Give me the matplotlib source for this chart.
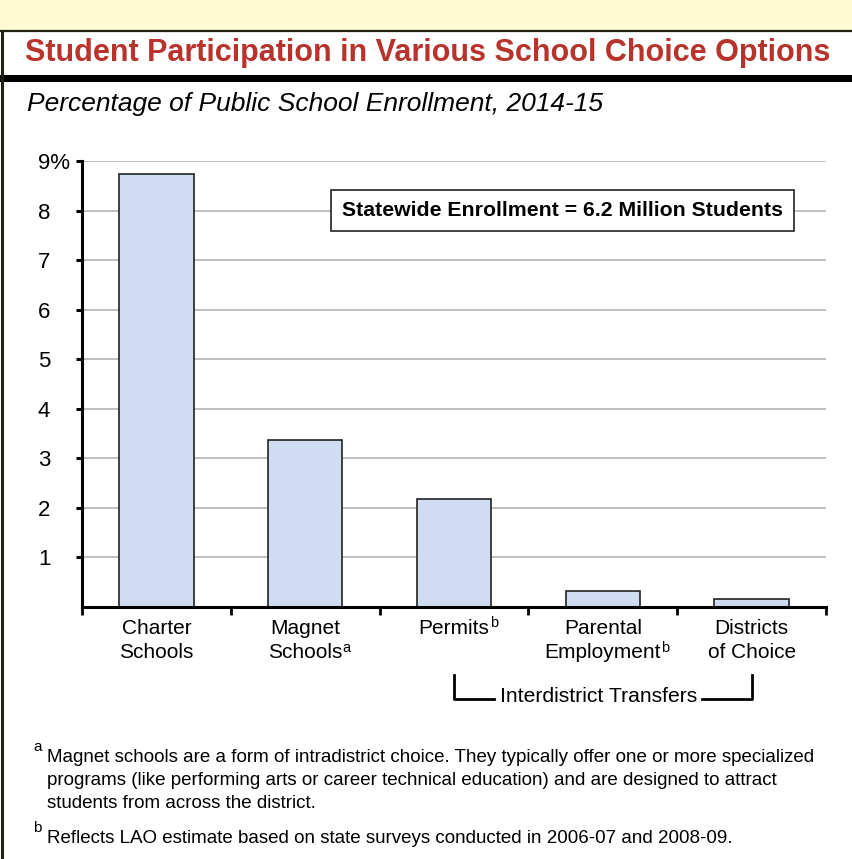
import matplotlib
matplotlib.use("Agg")
import matplotlib.pyplot as plt
import matplotlib.transforms as mtransforms
from matplotlib.patches import Rectangle

# ── Data ──────────────────────────────────────────────────────────
# (first line, second line, footnote mark on the last line)
categories = [
    ("Charter", "Schools", ""),
    ("Magnet", "Schools", "a"),
    ("Permits", "", "b"),
    ("Parental", "Employment", "b"),
    ("Districts", "of Choice", ""),
]
values = [8.73, 3.38, 2.17, 0.32, 0.155]
y_ticks = [1, 2, 3, 4, 5, 6, 7, 8, 9]
y_labels = ["1", "2", "3", "4", "5", "6", "7", "8", "9%"]

# ── Style ─────────────────────────────────────────────────────────
_RED = "#B8332B"
_BAR = "#CFDCF2"
_BAND = "#FEFAD3"
_GRID = "#B4B4B4"
FONT = "Liberation Sans"

plt.rcParams["font.family"] = [FONT, "DejaVu Sans"]

W, H = 853, 859
fig = plt.figure(figsize=(W / 100, H / 100), dpi=100, facecolor="white")

# overlay in pixel coordinates (y downwards)
ov = fig.add_axes([0, 0, 1, 1], zorder=0)
ov.set_xlim(0, W)
ov.set_ylim(H, 0)
ov.axis("off")

ov.add_patch(Rectangle((0, 0), W, 30, facecolor=_BAND, edgecolor="none"))
ov.plot([0, W], [31, 31], color="#222211", lw=1.6)
ov.plot([2, 2], [31, H], color="#222211", lw=2.2)
ov.add_patch(Rectangle((0, 75), W, 6.5, facecolor="black", edgecolor="none"))

ov.text(25, 61.5, "Student Participation in Various School Choice Options",
        fontsize=22, fontweight="bold", color=_RED, va="baseline", ha="left")
ov.text(27, 111.5, "Percentage of Public School Enrollment, 2014-15",
        fontsize=19, fontstyle="italic", color="black", va="baseline", ha="left")

# footnotes
fn = 13.5
ov.text(33, 754, "a", fontsize=11, va="bottom", ha="left")
ov.text(47, 762, "Magnet schools are a form of intradistrict choice. They typically offer one or more specialized",
        fontsize=fn, va="baseline", ha="left")
ov.text(47, 785, "programs (like performing arts or career technical education) and are designed to attract",
        fontsize=fn, va="baseline", ha="left")
ov.text(47, 808, "students from across the district.",
        fontsize=fn, va="baseline", ha="left")
ov.text(33, 835, "b", fontsize=11, va="bottom", ha="left")
ov.text(47, 843, "Reflects LAO estimate based on state surveys conducted in 2006-07 and 2008-09.",
        fontsize=fn, va="baseline", ha="left")

# ── Main chart ────────────────────────────────────────────────────
ax = fig.add_axes([82 / W, (H - 607) / H, (826 - 82) / W, (607 - 161) / H], zorder=2)
ax.patch.set_alpha(0)
x = list(range(len(categories)))
ax.bar(x, values, width=0.5, color=_BAR, edgecolor="#222222", linewidth=1.2, zorder=3)

ax.set_xlim(-0.5, len(categories) - 0.5)
ax.set_ylim(0, 9)
ax.set_yticks(y_ticks)
ax.set_yticklabels(y_labels, fontsize=16)
ax.set_xticks(x)
ax.set_xticklabels([""] * len(x))
ax.set_xticks([i - 0.5 for i in range(len(categories) + 1)], minor=True)
ax.tick_params(axis="x", which="major", length=0)
ax.tick_params(axis="x", which="minor", length=6, width=2, direction="out")
ax.tick_params(axis="y", length=4.5, width=2.2, direction="out", pad=27.2)
for t in ax.get_yticklabels():
    t.set_horizontalalignment("left")

ax.grid(True, axis="y", color=_GRID, lw=1.2, zorder=0)
for side in ("top", "right"):
    ax.spines[side].set_visible(False)
ax.spines["left"].set_linewidth(2.2)
ax.spines["bottom"].set_linewidth(2.2)
ax.spines["bottom"].set_zorder(4)

# category labels (x in data, y in pixels)
tr = mtransforms.blended_transform_factory(ax.transData, ov.transData)
for xi, (l1, l2, mark) in zip(x, categories):
    t1 = ax.text(xi, 628, l1, fontsize=15, ha="center", va="center",
                 transform=tr, clip_on=False)
    last = t1
    if l2:
        last = ax.text(xi, 653, l2, fontsize=15, ha="center", va="center",
                       transform=tr, clip_on=False)
    if mark:
        ax.annotate(mark, xy=(1, 1), xycoords=last, xytext=(0.2, 1.5),
                    textcoords="offset points", fontsize=10.5,
                    ha="left", va="top")

ax.text(2.73, 8.0, "Statewide Enrollment = 6.2 Million Students",
        fontsize=15.3, fontweight="bold", ha="center", va="center", zorder=5,
        bbox=dict(boxstyle="square,pad=0.5", facecolor="white",
                  edgecolor="#222222", lw=1.2))

# bracket for interdistrict transfers
ax.plot([2, 2, 2.27], [675, 699, 699], color="black", lw=2, transform=tr, clip_on=False)
ax.plot([3.67, 4, 4], [699, 699, 675], color="black", lw=2, transform=tr, clip_on=False)
ax.text(2.97, 697, "Interdistrict Transfers", fontsize=15.2, ha="center", va="center",
        transform=tr, clip_on=False)

fig.savefig("out.png", dpi=100, facecolor="white")
